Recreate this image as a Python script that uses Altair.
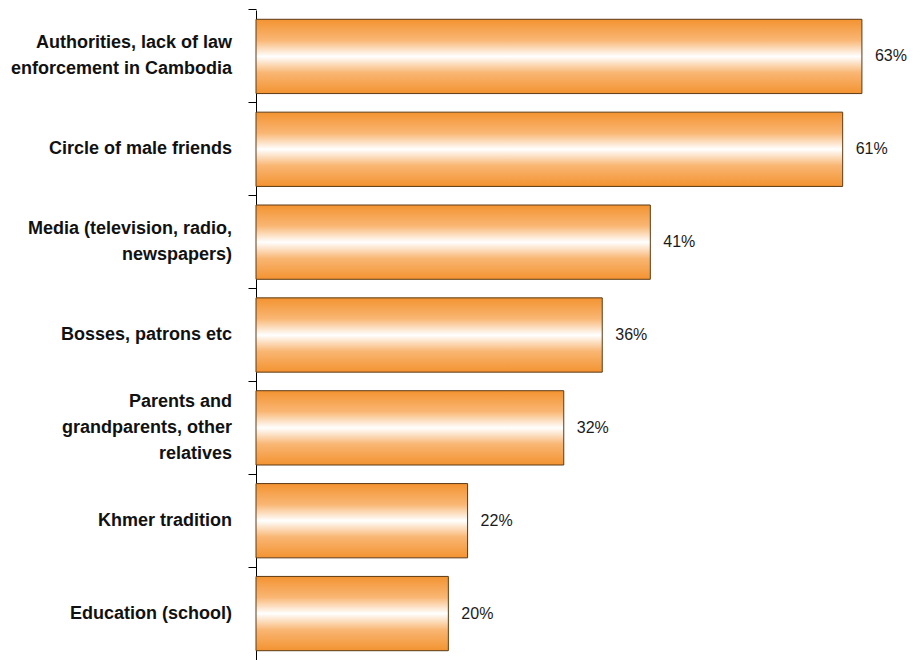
import altair as alt
import pandas as pd

categories = [
    "Authorities, lack of law\nenforcement in Cambodia",
    "Circle of male friends",
    "Media (television, radio,\nnewspapers)",
    "Bosses, patrons etc",
    "Parents and\ngrandparents, other\nrelatives",
    "Khmer tradition",
    "Education (school)",
]
values = [63, 61, 41, 36, 32, 22, 20]
value_labels = ["63%", "61%", "41%", "36%", "32%", "22%", "20%"]

df = pd.DataFrame({"cat": categories, "value": values, "label": value_labels})
df["nlines"] = [c.count("\n") + 1 for c in categories]

FONT = "Liberation Sans"
LH = 26

y_enc = alt.Y(
    "cat:N",
    sort=categories,
    scale=alt.Scale(paddingInner=0.2, paddingOuter=0.1),
    axis=alt.Axis(
        labels=False,
        title=None,
        ticks=True,
        tickSize=8,
        tickColor="black",
        tickWidth=1,
        domainColor="black",
        domainWidth=1,
        bandPosition=-0.125,
        grid=False,
    ),
)
x_enc = alt.X("value:Q", scale=alt.Scale(domain=[0, 68], nice=False, zero=True), axis=None)

grad = alt.Gradient(
    gradient="linear",
    stops=[
        alt.GradientStop(color="#F39331", offset=0),
        alt.GradientStop(color="#F9B673", offset=0.28),
        alt.GradientStop(color="#FFFFFF", offset=0.5),
        alt.GradientStop(color="#F9B673", offset=0.72),
        alt.GradientStop(color="#F39331", offset=1),
    ],
    x1=0, x2=0, y1=0, y2=1,
)

base = alt.Chart(df)

bars = base.mark_bar(fill=grad, stroke="#5C3A14", strokeWidth=1).encode(x=x_enc, y=y_enc)

vals = base.mark_text(align="left", baseline="middle", dx=13, font=FONT, fontSize=16, color="#1a1a1a").encode(
    x=x_enc, y=alt.Y("cat:N", sort=categories), text="label:N"
)

cat_layers = []
for n in (1, 2, 3):
    cat_layers.append(
        base.transform_filter(alt.datum.nlines == n)
        .mark_text(
            align="right", baseline="middle", font=FONT, fontSize=18, fontWeight="bold",
            color="#111111", lineBreak="\n", lineHeight=LH, dy=-(n - 1) * LH / 2,
        )
        .encode(x=alt.value(-24), y=alt.Y("cat:N", sort=categories), text="cat:N")
    )

chart = (
    alt.layer(bars, vals, *cat_layers)
    .properties(
        width=654,
        height=650,
        autosize=alt.AutoSizeParams(type="none"),
        padding={"left": 248, "top": 2, "right": 0, "bottom": 0},
    )
    .configure_view(stroke=None)
)

chart.save("out.html", embed_options={"renderer": "svg", "actions": False})
